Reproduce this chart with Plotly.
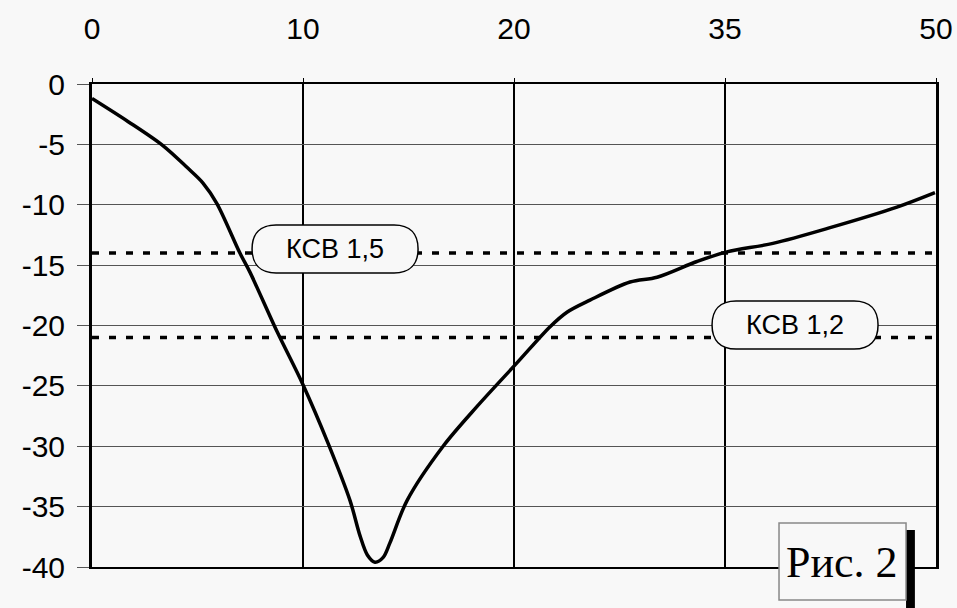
import plotly.graph_objects as go

# ---- data ----
x_positions = [0, 1, 2, 3, 4]
x_labels = ["0", "10", "20", "35", "50"]

y_values = [0, -5, -10, -15, -20, -25, -30, -35, -40]
y_labels = ["0", "-5", "-10", "-15", "-20", "-25", "-30", "-35", "-40"]

curve_x = [0, 0.17, 0.336, 0.45, 0.526, 0.592, 0.701, 0.749, 0.877, 1.0, 1.12, 1.223,
           1.27, 1.305, 1.341, 1.38, 1.412, 1.493, 1.664, 1.825, 2.014, 2.171, 2.251,
           2.36, 2.55, 2.678, 2.867, 3.009, 3.227, 3.498, 3.815, 3.995]
curve_y = [-1.2, -3.1, -5.1, -6.9, -8.2, -9.9, -14.0, -15.6, -20.5, -24.9, -29.8, -34.5,
           -37.4, -39.0, -39.6, -39.2, -38.0, -34.5, -30.0, -26.7, -23.1, -20.1, -18.9,
           -17.9, -16.4, -16.0, -14.7, -13.9, -13.2, -11.9, -10.2, -9.0]

ref_labels = ["КСВ 1,5", "КСВ 1,2"]
ref_levels = [-14.0, -21.0]
ref_label_x = [1.152, 3.332]
ref_label_y = [-13.66, -19.96]

fig_label = "Рис. 2"

fig = go.Figure()

# reference (dotted) levels
for lvl in ref_levels:
    fig.add_trace(go.Scatter(
        x=[x_positions[0], x_positions[-1]], y=[lvl, lvl], mode="lines",
        line=dict(color="black", width=3.5, dash="7px,10px"),
        hoverinfo="skip", showlegend=False))

# main curve
fig.add_trace(go.Scatter(
    x=curve_x, y=curve_y, mode="lines",
    line=dict(color="black", width=3.5, shape="spline", smoothing=0.9),
    showlegend=False))

# stadium label boxes
W, H, R = 83, 24, 24
stadium = (f"M {-W+R},{-H} L {W-R},{-H} C {W-R+16},{-H} {W},{-H+9} {W},0 "
           f"C {W},{H-9} {W-R+16},{H} {W-R},{H} L {-W+R},{H} "
           f"C {-W+R-16},{H} {-W},{H-9} {-W},0 C {-W},{-H+9} {-W+R-16},{-H} {-W+R},{-H} Z")
for lbl, lx, ly in zip(ref_labels, ref_label_x, ref_label_y):
    fig.add_shape(type="path", xref="x", yref="y", xsizemode="pixel", ysizemode="pixel",
                  xanchor=lx, yanchor=ly, path=stadium,
                  line=dict(color="black", width=1.5), fillcolor="#f8f8f8", layer="above")
    fig.add_annotation(x=lx, y=ly, xref="x", yref="y", text=lbl, showarrow=False,
                       xanchor="center", yanchor="middle",
                       font=dict(family="Liberation Sans, Arial", size=27, color="black"))

# "Рис. 2" box with shadow
fig.add_shape(type="rect", xref="paper", yref="paper", x0=0.9645, x1=0.975,
              y0=-0.0849, y1=0.0766, fillcolor="black", line=dict(width=0), layer="above")
fig.add_shape(type="rect", xref="paper", yref="paper", x0=0.814, x1=0.9645,
              y0=-0.0683, y1=0.0911, fillcolor="#f8f8f8",
              line=dict(color="#888", width=1.5), layer="above")
fig.add_annotation(x=0.8886, y=0.0083, xref="paper", yref="paper", text=fig_label,
                   showarrow=False, xanchor="center", yanchor="middle",
                   font=dict(family="Liberation Serif, Times New Roman", size=44, color="black"))

tickfont = dict(family="Liberation Sans, Arial", size=30, color="black")
fig.update_layout(
    width=957, height=608,
    margin=dict(l=92, r=21, t=84, b=41),
    paper_bgcolor="#f8f8f8", plot_bgcolor="#f8f8f8",
    xaxis=dict(side="top", range=[0, 4], tickvals=x_positions, ticktext=x_labels,
               showgrid=True, gridcolor="black", gridwidth=1.5,
               showline=True, linecolor="black", linewidth=2, mirror=True,
               ticks="outside", ticklen=4, tickcolor="black", automargin=False,
               tickfont=tickfont, ticklabelstandoff=27, zeroline=False),
    yaxis=dict(range=[-40, 0], tickvals=y_values, ticktext=y_labels,
               showgrid=True, gridcolor="#555", gridwidth=1,
               showline=True, linecolor="black", linewidth=3, mirror=True,
               ticks="outside", ticklen=12, tickcolor="#555", automargin=False,
               tickfont=tickfont, ticklabelstandoff=6, zeroline=False),
)

fig.write_html("out.html")
